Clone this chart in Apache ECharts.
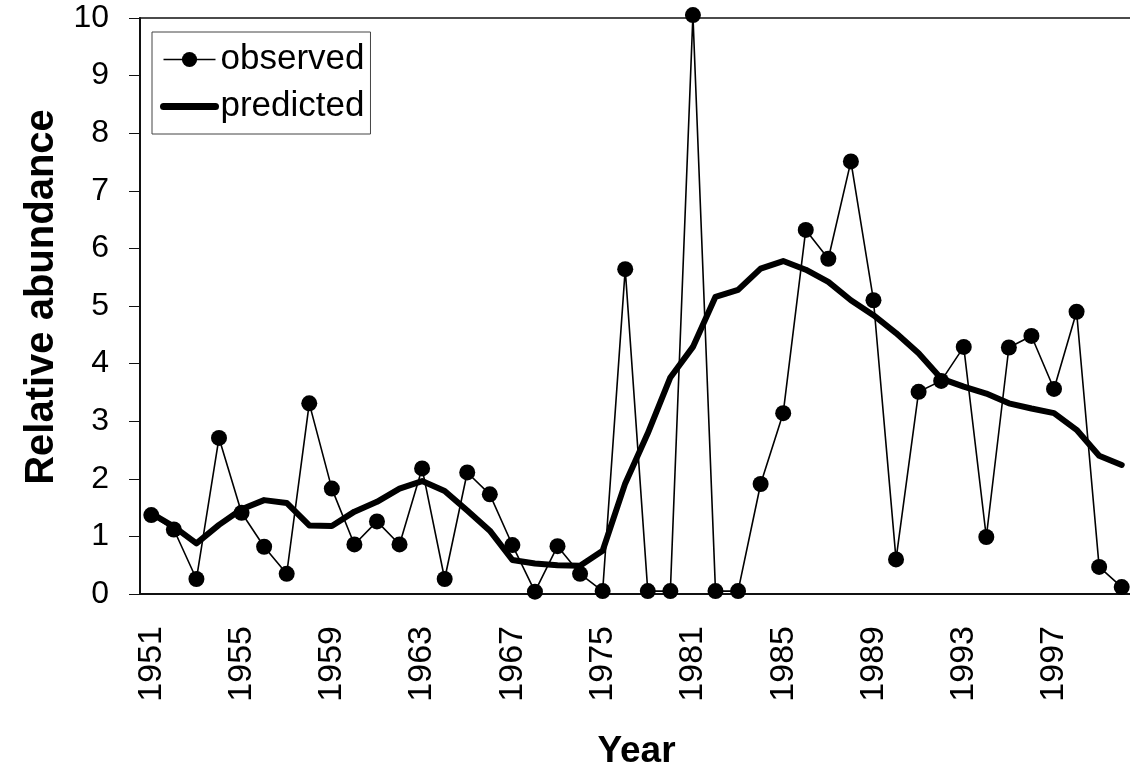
<!DOCTYPE html>
<html>
<head>
<meta charset="utf-8">
<script src="https://cdn.jsdelivr.net/npm/echarts@6/dist/echarts.min.js"></script>
<style>
  html, body { margin: 0; padding: 0; background: #fff; }
  #chart { width: 1130px; height: 768px; }
</style>
</head>
<body>
<div id="chart"></div>
<script>
// category years (some years missing in the source series)
const years = [
  "1951", "1952", "1953", "1954", "1955", "1956", "1957", "1958", "1959", "1960",
  "1961", "1962", "1963", "1964", "1965", "1966", "1967", "1969", "1971", "1973",
  "1975", "1977", "1979", "1980", "1981", "1982", "1983", "1984", "1985", "1986",
  "1987", "1988", "1989", "1990", "1991", "1992", "1993", "1994", "1995", "1996",
  "1997", "1998", "1999", "2000"
];

const observed = [
  1.37, 1.12, 0.26, 2.71, 1.41, 0.82, 0.35, 3.31, 1.83, 0.86,
  1.26, 0.86, 2.18, 0.26, 2.11, 1.73, 0.85, 0.04, 0.83, 0.35,
  0.05, 5.64, 0.05, 0.05, 10.05, 0.05, 0.05, 1.91, 3.14, 6.32,
  5.82, 7.51, 5.1, 0.6, 3.51, 3.7, 4.29, 0.99, 4.28, 4.48,
  3.56, 4.9, 0.47, 0.12
];

const predicted = [
  1.40, 1.17, 0.88, 1.20, 1.47, 1.63, 1.58, 1.19, 1.18, 1.43,
  1.60, 1.83, 1.96, 1.79, 1.45, 1.10, 0.59, 0.53, 0.50, 0.49,
  0.75, 1.92, 2.79, 3.76, 4.29, 5.16, 5.28, 5.65, 5.78, 5.63,
  5.42, 5.10, 4.84, 4.53, 4.18, 3.74, 3.60, 3.48, 3.31, 3.22,
  3.14, 2.85, 2.40, 2.24
];

const font = "'Liberation Sans', Arial, Helvetica, sans-serif";

const chart = echarts.init(document.getElementById("chart"), null, { renderer: "canvas" });

chart.setOption({
  backgroundColor: "#fff",
  animation: false,
  grid: {
    left: 140,
    top: 18,
    right: -3,
    bottom: 174,
    outerBoundsMode: "none",
    show: true,
    borderColor: "#111",
    borderWidth: 1.5
  },
  legend: {
    orient: "vertical",
    left: 152,
    top: 32,
    padding: [10, 6, 10, 8],
    itemGap: 12,
    itemWidth: 52,
    itemHeight: 19,
    borderColor: "#444",
    borderWidth: 1,
    textStyle: { fontFamily: font, fontSize: 35, color: "#000" },
    data: [
      { name: "observed", lineStyle: { width: 1.6 } },
      { name: "predicted", itemStyle: { opacity: 0 }, lineStyle: { width: 7 } }
    ]
  },
  xAxis: {
    type: "category",
    data: years,
    boundaryGap: true,
    name: "Year",
    nameLocation: "middle",
    nameGap: 139,
    nameTextStyle: { fontFamily: font, fontSize: 37, fontWeight: "bold", color: "#000" },
    axisLine: { lineStyle: { color: "#111", width: 2 } },
    axisTick: { interval: 0, length: 11, lineStyle: { color: "#111", width: 1 } },
    axisLabel: {
      interval: 3,
      rotate: 90,
      margin: 32,
      fontFamily: font,
      fontSize: 34,
      color: "#000"
    },
    splitLine: { show: false }
  },
  yAxis: {
    type: "value",
    min: 0,
    max: 10,
    interval: 1,
    name: "Relative abundance",
    nameLocation: "middle",
    nameGap: 78,
    nameTextStyle: {
      fontFamily: font, fontSize: 40, fontWeight: "bold", color: "#000",
      padding: [0, 0, 0, 18]
    },
    axisLine: { show: true, lineStyle: { color: "#111", width: 2 } },
    axisTick: { show: true, length: 11, lineStyle: { color: "#111", width: 1 } },
    axisLabel: { margin: 31, fontFamily: font, fontSize: 32, color: "#000" },
    splitLine: { show: false }
  },
  series: [
    {
      name: "observed",
      type: "line",
      data: observed,
      symbol: "circle",
      symbolSize: 16,
      showAllSymbol: true,
      clip: false,
      z: 3,
      itemStyle: { color: "#000" },
      lineStyle: { color: "#000", width: 1.6 }
    },
    {
      name: "predicted",
      type: "line",
      data: predicted,
      symbol: "none",
      z: 2,
      itemStyle: { color: "#000" },
      lineStyle: { color: "#000", width: 6, join: "round", cap: "round" }
    }
  ]
});
</script>
</body>
</html>
